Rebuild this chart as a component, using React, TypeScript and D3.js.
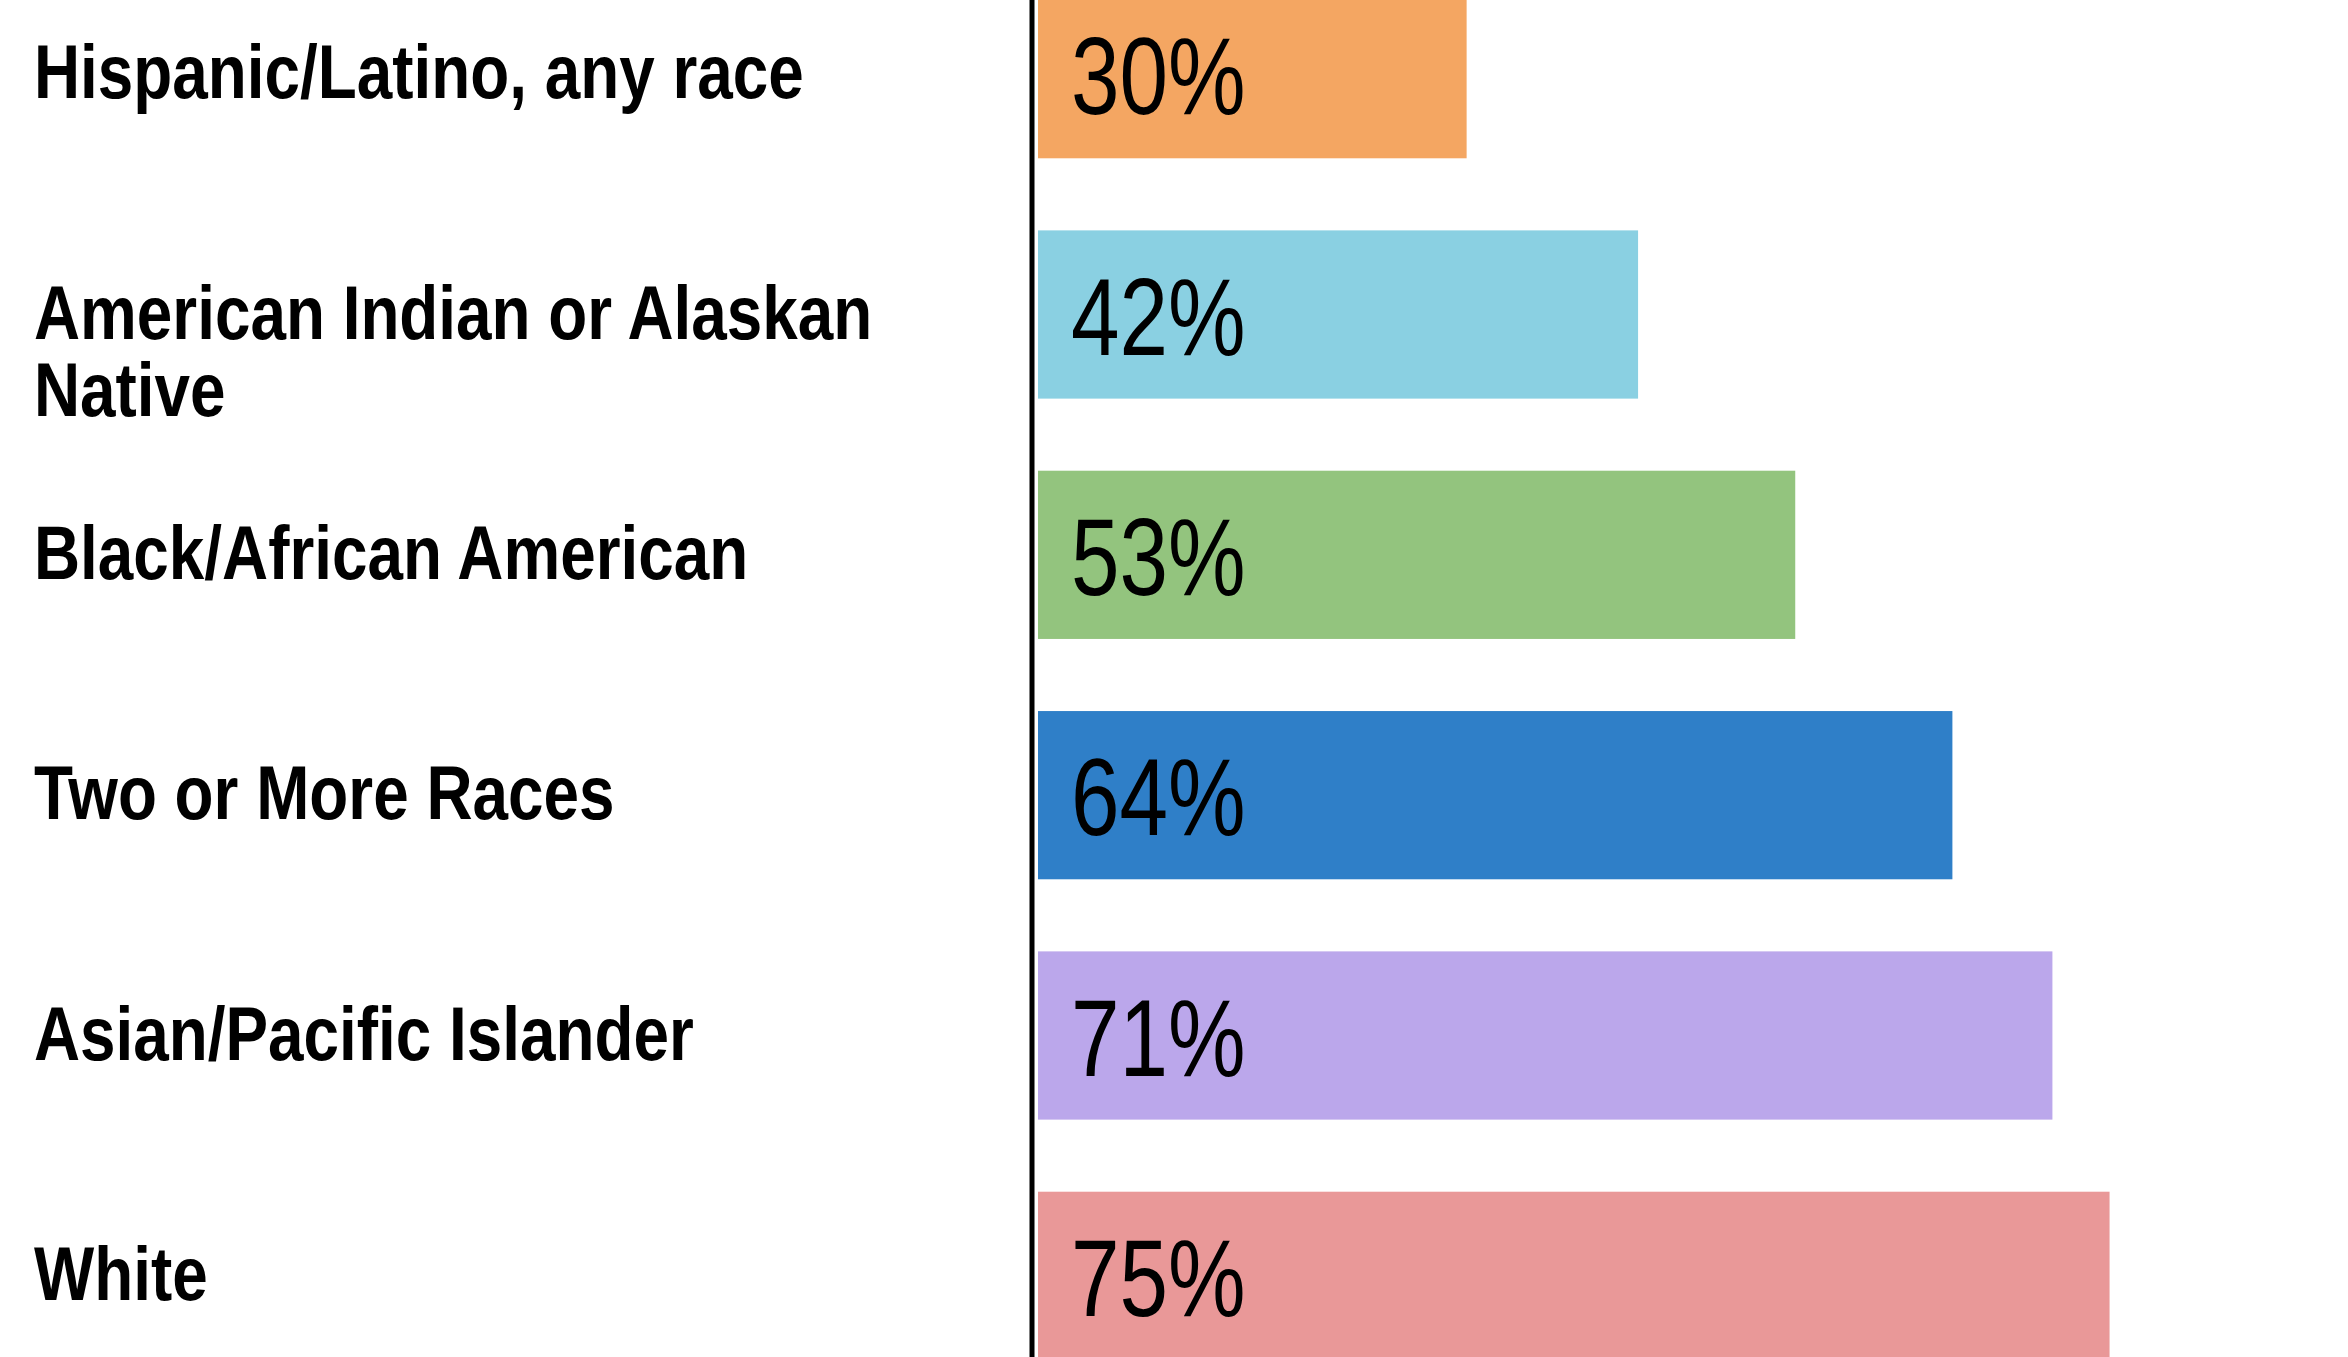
import React, { useRef, useEffect } from "react";
import * as d3 from "d3";

const categories = [
  "Hispanic/Latino, any race",
  "American Indian or Alaskan Native",
  "Black/African American",
  "Two or More Races",
  "Asian/Pacific Islander",
  "White",
];

// label lines (the long one wraps onto two lines)
const labelLines = [
  ["Hispanic/Latino, any race"],
  ["American Indian or Alaskan", "Native"],
  ["Black/African American"],
  ["Two or More Races"],
  ["Asian/Pacific Islander"],
  ["White"],
];

const values = [30, 42, 53, 64, 71, 75];

const colors = ["#F4A662", "#8AD0E2", "#93C47E", "#2F7FC8", "#BBA7EB", "#E99898"];

const width = 2348;
const height = 1357;

const FONT = "'Liberation Sans', Arial, sans-serif";

const BarChart: React.FC = () => {
  const svgRef = useRef<SVGSVGElement | null>(null);

  useEffect(() => {
    if (!svgRef.current) return;
    const svg = d3.select(svgRef.current);
    svg.selectAll("*").remove();

    const axisX = 1032;
    const barX0 = 1038;

    const x = d3.scaleLinear().domain([0, 80]).range([barX0, barX0 + 1143]);

    const y = d3
      .scaleBand<string>()
      .domain(categories)
      .range([-46, 1396])
      .paddingInner(0.3)
      .paddingOuter(0.15);

    const rows = categories.map((c, i) => ({
      cat: c,
      value: values[i],
      color: colors[i],
      lines: labelLines[i],
    }));

    // bars
    svg
      .selectAll(".bar")
      .data(rows)
      .join("rect")
      .attr("class", "bar")
      .attr("x", barX0)
      .attr("y", (d) => y(d.cat)!)
      .attr("width", (d) => x(d.value) - barX0)
      .attr("height", y.bandwidth())
      .attr("fill", (d) => d.color);

    // vertical axis line
    svg
      .append("line")
      .attr("x1", axisX)
      .attr("x2", axisX)
      .attr("y1", 0)
      .attr("y2", height)
      .attr("stroke", "#000")
      .attr("stroke-width", 5);

    // value labels inside the bars (condensed look via horizontal squeeze)
    svg
      .selectAll(".value")
      .data(rows)
      .join("text")
      .attr("class", "value")
      .attr(
        "transform",
        (d) => `translate(1071,${y(d.cat)! + y.bandwidth() / 2 + 40}) scale(0.8,1)`
      )
      .attr("font-family", FONT)
      .attr("font-size", 109)
      .attr("fill", "#000")
      .text((d) => `${d.value}%`);

    // category labels
    const labels = svg
      .selectAll(".cat")
      .data(rows)
      .join("text")
      .attr("class", "cat")
      .attr(
        "transform",
        (d) => `translate(34,${y(d.cat)! + y.bandwidth() / 2 + 24}) scale(0.84,1)`
      )
      .attr("font-family", FONT)
      .attr("font-weight", "bold")
      .attr("font-size", 76)
      .attr("fill", "#000");

    labels
      .selectAll("tspan")
      .data((d) => d.lines.map((l, j) => ({ l, j })))
      .join("tspan")
      .attr("x", 0)
      .attr("y", (t) => t.j * 78)
      .text((t) => t.l);
  }, []);

  return (
    <svg
      ref={svgRef}
      width={width}
      height={height}
      style={{ position: "absolute", left: 0, top: 0, background: "#fff" }}
    />
  );
};

export default function App() {
  return <BarChart />;
}
